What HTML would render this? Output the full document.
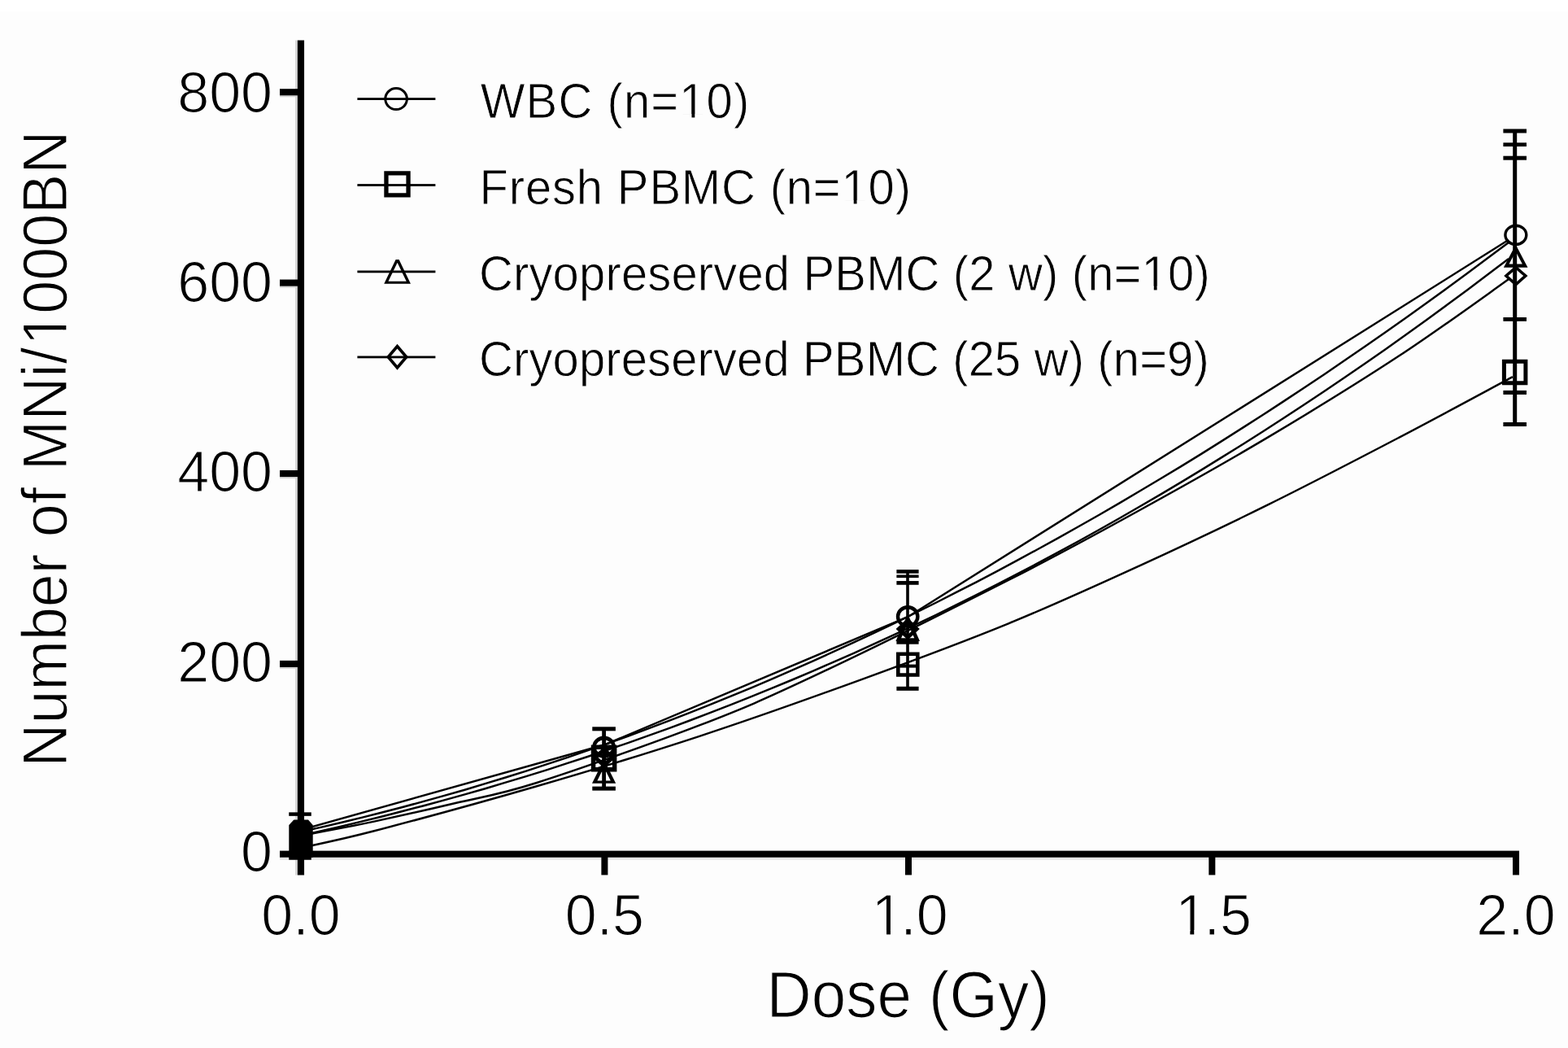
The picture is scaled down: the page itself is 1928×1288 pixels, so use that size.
<!DOCTYPE html><html><head><meta charset="utf-8"><title>Dose response</title>
<style>html,body{margin:0;padding:0;background:#fdfdfd;width:1928px;height:1288px;overflow:hidden}svg{display:block}</style></head><body>
<svg width="1928" height="1288" viewBox="0 0 1928 1288" font-family="'Liberation Sans', Arial, sans-serif">
<rect width="1928" height="1288" fill="#fdfdfd"/><rect width="1928" height="14" fill="#fff"/>
<g>
<rect x="363" y="49.5" width="2.9" height="1026" fill="#d8d8d8"/>
<rect x="344" y="1053.7" width="1524" height="3" fill="#e4e4e4"/>
<rect x="344" y="117.25" width="22" height="2" fill="#d4d4d4"/>
<rect x="344" y="351.6" width="22" height="2" fill="#d4d4d4"/>
<rect x="344" y="586" width="22" height="2" fill="#d4d4d4"/>
<rect x="344" y="819.9" width="22" height="2" fill="#d4d4d4"/>
</g>
<g fill="none" stroke="#000" stroke-width="2.45" stroke-linejoin="round">
<path d="M370.0,1022.2 L395.2,1016.6 L420.3,1010.7 L445.5,1004.6 L470.7,998.3 L495.8,991.7 L521.0,984.9 L546.2,977.9 L571.4,970.7 L596.5,963.2 L621.7,955.5 L646.9,947.6 L672.0,939.4 L697.2,931.1 L722.4,922.4 L747.5,913.6 L772.7,904.5 L797.9,895.2 L823.1,885.7 L848.2,875.9 L873.4,865.9 L898.6,855.7 L923.7,845.3 L948.9,834.6 L974.1,823.7 L999.2,812.6 L1024.4,801.2 L1049.6,789.6 L1074.7,777.8 L1099.9,765.8 L1125.1,753.5 L1150.3,741.0 L1175.4,728.2 L1200.6,715.3 L1225.8,702.1 L1250.9,688.7 L1276.1,675.0 L1301.3,661.1 L1326.4,647.0 L1351.6,632.7 L1376.8,618.1 L1401.9,603.3 L1427.1,588.3 L1452.3,573.1 L1477.5,557.6 L1502.6,541.9 L1527.8,525.9 L1553.0,509.8 L1578.1,493.4 L1603.3,476.7 L1628.5,459.9 L1653.6,442.8 L1678.8,425.5 L1704.0,408.0 L1729.2,390.2 L1754.3,372.2 L1779.5,354.0 L1804.7,335.5 L1829.8,316.8 L1855.0,297.9"/>
<path d="M370.0,1026.9 L395.2,1021.3 L420.3,1015.5 L445.5,1009.4 L470.7,1003.2 L495.8,996.8 L521.0,990.2 L546.2,983.4 L571.4,976.4 L596.5,969.2 L621.7,961.7 L646.9,954.1 L672.0,946.3 L697.2,938.2 L722.4,930.0 L747.5,921.5 L772.7,912.8 L797.9,903.9 L823.1,894.8 L848.2,885.5 L873.4,875.9 L898.6,866.1 L923.7,856.1 L948.9,845.9 L974.1,835.5 L999.2,824.8 L1024.4,813.9 L1049.6,802.8 L1074.7,791.4 L1099.9,779.9 L1125.1,768.0 L1150.3,756.0 L1175.4,743.7 L1200.6,731.2 L1225.8,718.4 L1250.9,705.4 L1276.1,692.2 L1301.3,678.7 L1326.4,665.0 L1351.6,651.0 L1376.8,636.8 L1401.9,622.3 L1427.1,607.6 L1452.3,592.6 L1477.5,577.4 L1502.6,561.9 L1527.8,546.2 L1553.0,530.2 L1578.1,514.0 L1603.3,497.5 L1628.5,480.7 L1653.6,463.7 L1678.8,446.4 L1704.0,428.9 L1729.2,411.1 L1754.3,393.0 L1779.5,374.6 L1804.7,356.0 L1829.8,337.1 L1855.0,318.0"/>
<path d="M370.0,1028.0 C372.5,1027.4 370.0,1027.4 385.0,1024.3 C400.0,1021.2 430.8,1015.8 460.0,1009.6 C489.2,1003.4 526.7,994.9 560.0,987.0 C593.3,979.1 610.0,977.9 660.0,962.0 C710.0,946.1 803.3,913.2 860.0,891.4 C916.7,869.6 936.7,860.9 1000.0,831.2 C1063.3,801.5 1173.3,746.9 1240.0,713.0 C1306.7,679.1 1346.7,657.1 1400.0,627.7 C1453.3,598.4 1506.7,568.6 1560.0,536.9 C1613.3,505.2 1670.5,470.1 1720.0,437.6 C1769.5,405.1 1834.2,357.8 1857.0,341.8"/>
<path d="M370.0,1042.0 C385.0,1038.5 411.7,1033.9 460.0,1021.3 C508.3,1008.7 593.3,985.7 660.0,966.3 C726.7,946.9 793.3,926.7 860.0,904.8 C926.7,882.9 996.7,857.9 1060.0,834.8 C1123.3,811.7 1183.3,789.5 1240.0,766.3 C1296.7,743.1 1346.7,720.2 1400.0,695.8 C1453.3,671.4 1506.7,646.2 1560.0,619.9 C1613.3,593.6 1670.0,564.0 1720.0,537.9 C1770.0,511.8 1836.7,475.6 1860.0,463.2"/>
<path d="M370,1020 L743.5,915.3 L1117,757.8 L1855,294.8"/>
</g>
<g fill="#000">
<rect x="366.50" y="1000.6" width="5" height="53.90"/>
<rect x="355.25" y="998.35" width="27.5" height="4.5"/>
<rect x="355.25" y="1052.25" width="27.5" height="4.5"/>
<rect x="740.20" y="895.8" width="4.8" height="73.30"/>
<rect x="728.30" y="893.30" width="28.6" height="5"/>
<rect x="728.30" y="966.60" width="28.6" height="5"/>
<rect x="1114.20" y="702.4" width="3.6" height="143.90"/>
<rect x="1102.40" y="700.10" width="27.2" height="4.6"/>
<rect x="1102.40" y="706.50" width="27.2" height="3.6"/>
<rect x="1102.40" y="714.05" width="27.2" height="4.7"/>
<rect x="1102.40" y="787.50" width="27.2" height="4.2"/>
<rect x="1102.40" y="816.60" width="27.2" height="4"/>
<rect x="1102.40" y="843.80" width="27.2" height="5"/>
<rect x="1860.20" y="161" width="5" height="360.50"/>
<rect x="1848.40" y="158.50" width="28.6" height="5"/>
<rect x="1848.40" y="175.35" width="28.6" height="4.7"/>
<rect x="1848.40" y="191.70" width="28.6" height="5"/>
<rect x="1848.40" y="390.00" width="28.6" height="4.8"/>
<rect x="1848.40" y="479.90" width="28.6" height="5"/>
<rect x="1848.40" y="519.00" width="28.6" height="5"/>
</g>
<g fill="#000" fill-rule="evenodd"><path d="M361.3,1007.4 L379,1007.4 L384.7,1014 L384.7,1054 L355.3,1054 L355.3,1014 Z"/><path d="M728.20,918.20 a14.40,13.60 0 1,0 28.80,0 a14.40,13.60 0 1,0 -28.80,0 Z M732.80,918.20 a9.80,9.00 0 1,0 19.60,0 a9.80,9.00 0 1,0 -19.60,0 Z"/><path d="M726.80,915.50 L758.40,915.50 L758.40,948.50 L726.80,948.50 Z M732.30,943.00 L752.90,943.00 L752.90,921.00 L732.30,921.00 Z"/><path d="M742.60,918.00 L757.00,931.00 L742.60,944.00 L728.20,931.00 Z M735.66,931.00 L742.60,937.26 L749.54,931.00 L742.60,924.74 Z"/><path d="M741.10,936.50 L744.10,936.50 L757.20,962.80 L728.00,962.80 Z M734.39,959.40 L750.81,959.40 L741.50,940.70 L743.70,940.70 Z"/><path d="M1101.80,757.80 a14.40,13.80 0 1,0 28.80,0 a14.40,13.80 0 1,0 -28.80,0 Z M1106.20,757.80 a10.00,9.40 0 1,0 20.00,0 a10.00,9.40 0 1,0 -20.00,0 Z"/><path d="M1114.70,758.00 L1117.70,758.00 L1131.00,788.00 L1101.40,788.00 Z M1108.12,784.20 L1124.28,784.20 L1114.71,762.60 L1117.69,762.60 Z"/><path d="M1116.20,759.50 L1130.80,773.00 L1116.20,786.50 L1101.60,773.00 Z M1108.67,773.00 L1116.20,779.96 L1123.73,773.00 L1116.20,766.04 Z"/><path d="M1102.00,801.40 L1130.60,801.40 L1130.60,831.80 L1102.00,831.80 Z M1106.60,827.20 L1126.00,827.20 L1126.00,806.00 L1106.60,806.00 Z"/><path d="M1849.20,288.80 a14.65,13.30 0 1,0 29.30,0 a14.65,13.30 0 1,0 -29.30,0 Z M1852.60,288.80 a11.25,9.90 0 1,0 22.50,0 a11.25,9.90 0 1,0 -22.50,0 Z"/><path d="M1862.20,303.50 L1865.20,303.50 L1878.50,328.70 L1848.90,328.70 Z M1855.53,324.50 L1871.87,324.50 L1862.85,307.40 L1864.55,307.40 Z"/><path d="M1863.85,326.30 L1878.50,339.10 L1863.85,351.90 L1849.20,339.10 Z M1854.52,339.10 L1863.85,347.25 L1873.18,339.10 L1863.85,330.95 Z"/><path d="M1846.90,441.80 L1878.40,441.80 L1878.40,473.30 L1846.90,473.30 Z M1851.90,468.30 L1873.40,468.30 L1873.40,446.80 L1851.90,446.80 Z"/></g>
<g fill="#000">
<rect x="365.85" y="49.5" width="8.2" height="1026"/>
<rect x="344" y="1045.6" width="1524" height="8.15"/>
<rect x="344" y="109.2" width="24" height="8.1"/>
<rect x="344" y="343.55" width="24" height="8.1"/>
<rect x="344" y="577.95" width="24" height="8.1"/>
<rect x="344" y="811.85" width="24" height="8.1"/>
<rect x="739.4" y="1049" width="8" height="26.4"/>
<rect x="1113" y="1049" width="8" height="26.4"/>
<rect x="1486.3" y="1049" width="8" height="26.4"/>
<rect x="1860" y="1049" width="8" height="26.4"/>
</g>
<g font-size="70" fill="#000" stroke="#fdfdfd" stroke-width="1.2">
<text x="335" y="137.6" text-anchor="end">800</text>
<text x="335" y="371.0" text-anchor="end">600</text>
<text x="335" y="604.4" text-anchor="end">400</text>
<text x="335" y="837.8" text-anchor="end">200</text>
<text x="335" y="1071.2" text-anchor="end">0</text>
<text x="370" y="1149" text-anchor="middle">0.0</text>
<text x="743.4" y="1149" text-anchor="middle">0.5</text>
<text x="1068.34" y="1149"><tspan dx="3.5">1</tspan><tspan dx="-3.5">.0</tspan></text>
<text x="1441.64" y="1149"><tspan dx="3.5">1</tspan><tspan dx="-3.5">.5</tspan></text>
<text x="1864" y="1149" text-anchor="middle">2.0</text>
</g>
<text stroke="#fdfdfd" stroke-width="1.2" x="1116.6" y="1249.6" font-size="76.4" text-anchor="middle" transform="translate(0,1249.6) scale(1,1.034) translate(0,-1249.6)">Dose (Gy)</text>
<text stroke="#fdfdfd" stroke-width="1.2" transform="translate(82.1,551.6) rotate(-90) scale(1,1.062)" font-size="73.7" text-anchor="middle" x="0" y="0">Number of MNi/<tspan dx="2.4">1</tspan><tspan dx="-2.4">000BN</tspan></text>
<g>
<rect x="439.4" y="120.19999999999999" width="96" height="2.8" fill="#000"/>
<rect x="439.4" y="226.1" width="96" height="2.8" fill="#000"/>
<rect x="439.4" y="332.5" width="96" height="2.8" fill="#000"/>
<rect x="439.4" y="437.5" width="96" height="2.8" fill="#000"/>
<g fill="#000" fill-rule="evenodd"><path d="M472.30,121.55 a14.80,14.45 0 1,0 29.60,0 a14.80,14.45 0 1,0 -29.60,0 Z M475.30,121.55 a11.80,11.45 0 1,0 23.60,0 a11.80,11.45 0 1,0 -23.60,0 Z"/><path d="M472.30,210.20 L504.70,210.20 L504.70,242.60 L472.30,242.60 Z M477.60,237.30 L499.40,237.30 L499.40,215.50 L477.60,215.50 Z"/><path d="M486.60,319.00 L490.60,319.00 L504.95,348.80 L472.25,348.80 Z M477.47,345.80 L499.73,345.80 L488.46,322.40 L488.74,322.40 Z"/><path d="M488.50,422.80 L502.10,438.80 L488.50,454.80 L474.90,438.80 Z M479.76,438.80 L488.50,449.09 L497.24,438.80 L488.50,428.51 Z"/></g>
</g>
<g font-size="58" fill="#000" stroke="#fdfdfd" stroke-width="0.8">
<text x="590.8" y="145.3" textLength="330.5" lengthAdjust="spacing" transform="translate(0,145.3) scale(1,1.055) translate(0,-145.3)">WBC (n=10)</text>
<text x="589.6" y="251.3" textLength="530.4" lengthAdjust="spacing" transform="translate(0,251.3) scale(1,1.055) translate(0,-251.3)">Fresh PBMC (n=10)</text>
<text x="589" y="356.8" textLength="898.7" lengthAdjust="spacing" transform="translate(0,356.8) scale(1,1.055) translate(0,-356.8)">Cryopreserved PBMC (2 w) (n=10)</text>
<text x="589" y="462.2" textLength="897.8" lengthAdjust="spacing" transform="translate(0,462.2) scale(1,1.055) translate(0,-462.2)">Cryopreserved PBMC (25 w) (n=9)</text>
</g>
<g fill="#fdfdfd"><rect x="1075.34" y="1143.19" width="14.70" height="6.65"/><rect x="1094.94" y="1143.19" width="14.00" height="6.65"/><rect x="1448.64" y="1143.19" width="14.70" height="6.65"/><rect x="1468.24" y="1143.19" width="14.00" height="6.65"/><rect x="130.88" y="-6.12" width="15.44" height="7.00" transform="translate(82.1,551.6) rotate(-90) scale(1,1.062)"/><rect x="151.56" y="-6.12" width="14.70" height="7.00" transform="translate(82.1,551.6) rotate(-90) scale(1,1.062)"/><rect x="838.19" y="140.49" width="12.30" height="5.51" transform="translate(0,145.3) scale(1,1.055) translate(0,-145.3)"/><rect x="854.31" y="140.49" width="11.72" height="5.51" transform="translate(0,145.3) scale(1,1.055) translate(0,-145.3)"/><rect x="1037.43" y="246.49" width="12.30" height="5.51" transform="translate(0,251.3) scale(1,1.055) translate(0,-251.3)"/><rect x="1053.55" y="246.49" width="11.72" height="5.51" transform="translate(0,251.3) scale(1,1.055) translate(0,-251.3)"/><rect x="1406.49" y="351.99" width="12.30" height="5.51" transform="translate(0,356.8) scale(1,1.055) translate(0,-356.8)"/><rect x="1422.61" y="351.99" width="11.72" height="5.51" transform="translate(0,356.8) scale(1,1.055) translate(0,-356.8)"/></g>
</svg></body></html>
